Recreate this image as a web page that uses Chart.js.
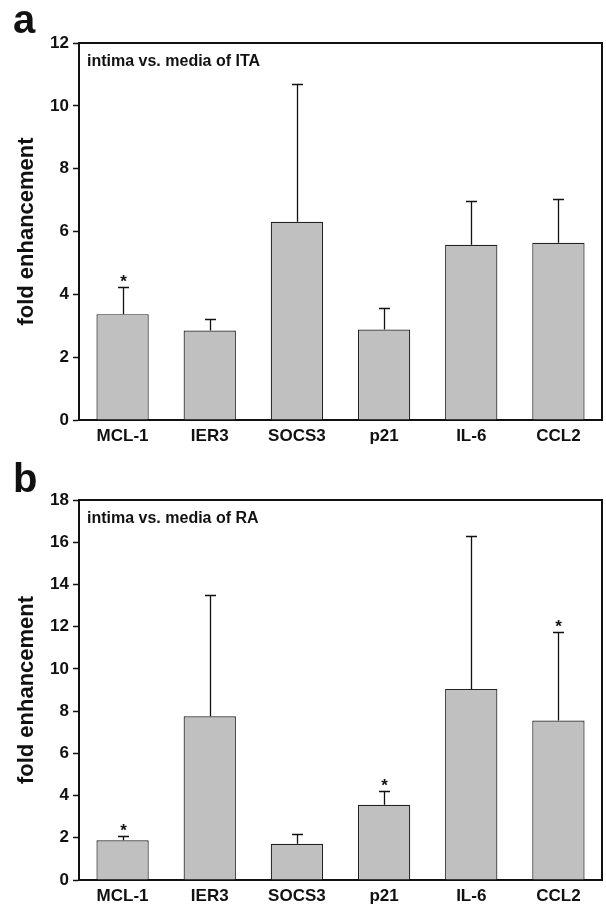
<!DOCTYPE html>
<html>
<head>
<meta charset="utf-8">
<script src="https://cdn.jsdelivr.net/npm/chart.js@4/dist/chart.umd.min.js"></script>
<style>
  body { margin: 0; background: #fff; }
  #wrap { position: relative; width: 606px; height: 905px; }
  canvas { position: absolute; left: 0; }
</style>
</head>
<body>
<div id="wrap">
  <canvas id="chart-a" width="606" height="452" style="top:0"></canvas>
  <canvas id="chart-b" width="606" height="453" style="top:452px"></canvas>
</div>
<script>
// Data
const genes = ["MCL-1", "IER3", "SOCS3", "p21", "IL-6", "CCL2"];

const itaMean = [3.37, 2.85, 6.31, 2.88, 5.58, 5.64];
const itaUpper = [4.22, 3.2, 10.71, 3.56, 6.98, 7.02];
const itaStar = [true, false, false, false, false, false];

const raMean = [1.88, 7.76, 1.72, 3.56, 9.05, 7.55];
const raUpper = [2.1, 13.51, 2.16, 4.2, 16.3, 11.75];
const raStar = [true, false, false, true, false, true];

const yTicksA = [0, 2, 4, 6, 8, 10, 12];
const yTicksB = [0, 2, 4, 6, 8, 10, 12, 14, 16, 18];

const FONT = "'Liberation Sans', Arial, sans-serif";
Chart.defaults.color = "#111";
Chart.defaults.font.family = FONT;

// error bars (upper only), stars, frame, inset text and panel letter
const decorations = {
  id: "decorations",
  afterDatasetsDraw(chart, args, opts) {
    const { ctx, chartArea } = chart;
    const y = chart.scales.y;
    const meta = chart.getDatasetMeta(0);
    ctx.save();
    ctx.strokeStyle = "#111";
    ctx.lineWidth = 1.3;
    meta.data.forEach((bar, i) => {
      const x = Math.round(bar.x) + 0.5;
      const top = Math.round(y.getPixelForValue(opts.upper[i])) + 0.5;
      const base = y.getPixelForValue(opts.mean[i]);
      ctx.beginPath();
      ctx.moveTo(x, base);
      ctx.lineTo(x, top);
      ctx.moveTo(x - 5.5, top);
      ctx.lineTo(x + 5.5, top);
      ctx.stroke();
      if (opts.star[i]) {
        ctx.fillStyle = "#111";
        ctx.font = "bold 17px " + FONT;
        ctx.textAlign = "center";
        ctx.textBaseline = "alphabetic";
        ctx.fillText("*", x, top - 1);
      }
    });
    // top and right sides of the frame
    ctx.lineWidth = 2;
    ctx.beginPath();
    ctx.moveTo(chartArea.left, chartArea.top);
    ctx.lineTo(chartArea.right, chartArea.top);
    ctx.lineTo(chartArea.right, chartArea.bottom);
    ctx.stroke();
    ctx.fillStyle = "#111";
    ctx.font = "bold 16px " + FONT;
    ctx.textAlign = "left";
    ctx.textBaseline = "middle";
    ctx.fillText(opts.inset, chartArea.left + 8, chartArea.top + 19);
    ctx.font = "bold 40px " + FONT;
    ctx.textBaseline = "alphabetic";
    ctx.fillText(opts.letter, 13, opts.letterY);
    ctx.restore();
  },
};

function makeChart(id, mean, upper, star, ticks, inset, letter, letterY, padTop, xHeight) {
  const max = ticks[ticks.length - 1];
  return new Chart(document.getElementById(id), {
    type: "bar",
    data: {
      labels: genes,
      datasets: [
        {
          data: mean,
          backgroundColor: "#c0c0c0",
          borderColor: "#222",
          borderWidth: 1.2,
          barPercentage: 0.6,
          categoryPercentage: 1,
        },
      ],
    },
    options: {
      responsive: false,
      animation: false,
      devicePixelRatio: 1,
      layout: { padding: { top: padTop, right: 4, left: 0, bottom: 0 } },
      plugins: {
        legend: { display: false },
        tooltip: { enabled: false },
        decorations: { mean, upper, star, inset, letter, letterY },
      },
      scales: {
        x: {
          afterFit: (s) => { s.height = xHeight; },
          grid: { display: false, drawTicks: false },
          border: { display: true, color: "#111", width: 2 },
          ticks: { padding: 6, font: { size: 17, weight: "bold" }, color: "#111" },
        },
        y: {
          min: 0,
          max: max,
          afterFit: (s) => { s.width = 79; },
          afterBuildTicks: (s) => { s.ticks = ticks.map((v) => ({ value: v })); },
          grid: { drawOnChartArea: false, drawTicks: true, tickLength: 6, tickColor: "#111", tickWidth: 1.5 },
          border: { display: true, color: "#111", width: 2 },
          ticks: { padding: 4, font: { size: 17, weight: "bold" }, color: "#111" },
          title: {
            display: true,
            text: "fold enhancement",
            font: { size: 22, weight: "bold" },
            color: "#111",
            padding: { top: 14, bottom: 0 },
          },
        },
      },
    },
    plugins: [decorations],
  });
}

makeChart("chart-a", itaMean, itaUpper, itaStar, yTicksA, "intima vs. media of ITA", "a", 33, 43, 32);
makeChart("chart-b", raMean, raUpper, raStar, yTicksB, "intima vs. media of RA", "b", 40, 48, 25);
</script>
</body>
</html>
